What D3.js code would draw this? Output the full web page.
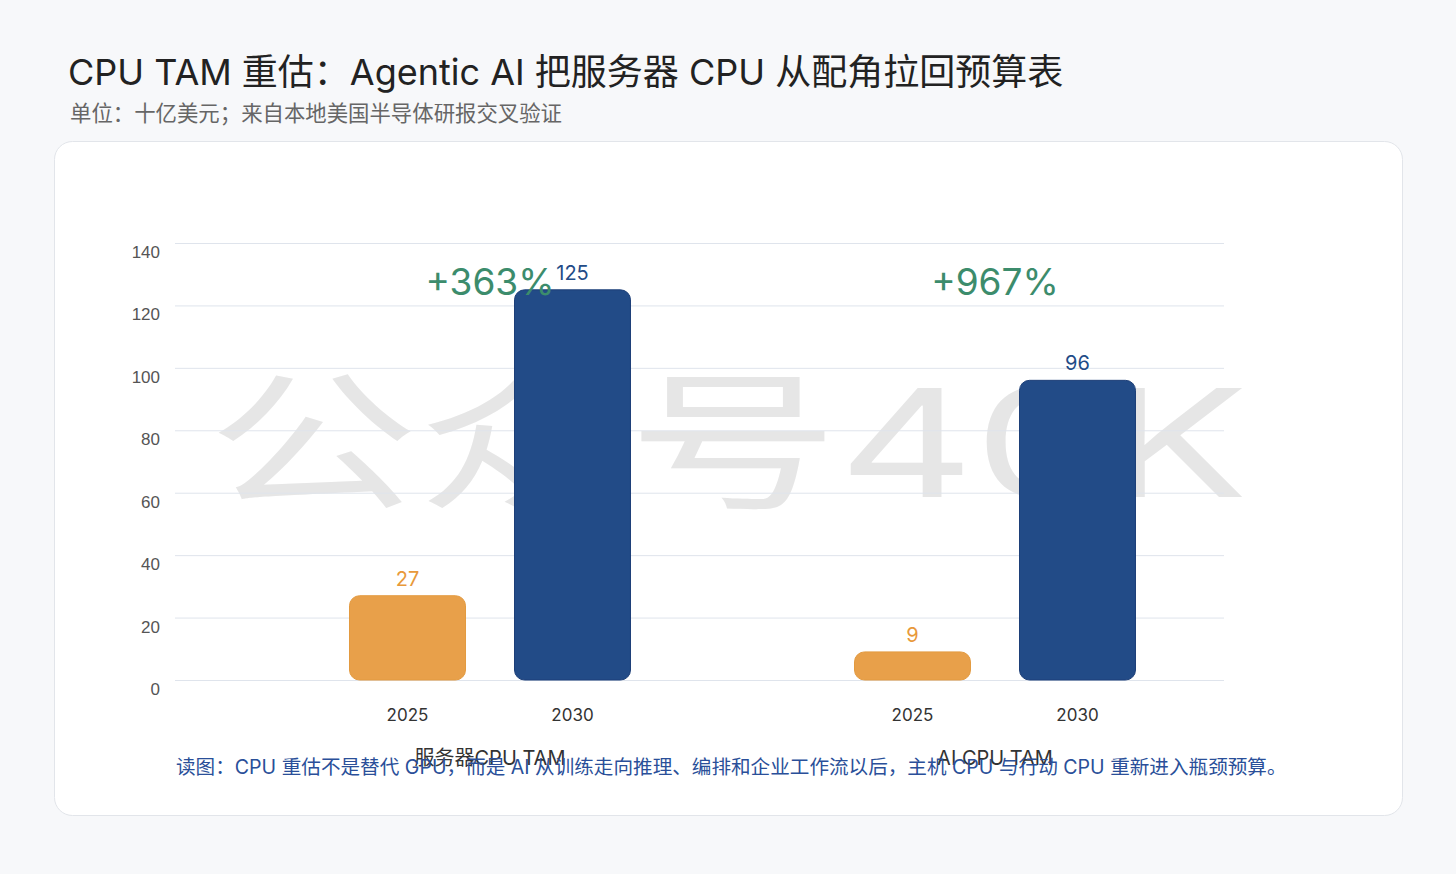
<!DOCTYPE html>
<html><head><meta charset="utf-8">
<script src="https://cdn.jsdelivr.net/npm/d3@7"></script>
<style>
html,body{margin:0;padding:0;background:#f7f8fa;}
svg{display:block;font-family:"Inter","Noto Sans CJK SC",sans-serif;}
</style></head>
<body><svg id="c" width="1456" height="874"></svg>
<script>
const categories = ["服务器CPU TAM", "AI CPU TAM"];
const years = ["2025", "2030"];
const values2025 = [27, 9];
const values2030 = [125, 96];
const growthLabels = ["+363%", "+967%"];
const yTicks = [0, 20, 40, 60, 80, 100, 120, 140];
const title = "CPU TAM 重估：Agentic AI 把服务器 CPU 从配角拉回预算表";
const subtitle = "单位：十亿美元；来自本地美国半导体研报交叉验证";
const footer = "读图：CPU 重估不是替代 GPU，而是 AI 从训练走向推理、编排和企业工作流以后，主机 CPU 与行动 CPU 重新进入瓶颈预算。";
const watermark = "公众号40K";

const colors = {"2025": "#e8a04a", "2030": "#224b87"};
const svg = d3.select("#c");

svg.append("rect").attr("x",0).attr("y",0).attr("width",1456).attr("height",874).attr("fill","#f7f8fa");
svg.append("rect").attr("x",54.5).attr("y",141.5).attr("width",1348).attr("height",674)
  .attr("rx",18).attr("fill","#fff").attr("stroke","#e2e5ea");

svg.append("text").attr("x",68).attr("y",85).attr("font-size",36).attr("fill","#222").text(title);
svg.append("text").attr("x",70).attr("y",121).attr("font-size",21.4).attr("fill","#666").text(subtitle);

const y = d3.scaleLinear().domain([0,140]).range([680,243]);
const x0 = d3.scaleBand().domain(categories).range([237.5,1247.5]).padding(0);
const x1 = d3.scaleBand().domain(years).range([-165,165]).paddingInner(0.297).paddingOuter(0.1485);

// watermark
svg.append("text").attr("x",728).attr("y",497).attr("text-anchor","middle")
  .attr("font-size",150).attr("fill","#e6e6e6").attr("textLength",1040).attr("lengthAdjust","spacingAndGlyphs")
  .text(watermark);

// gridlines
svg.append("g").selectAll("line").data(yTicks).join("line")
  .attr("x1",175).attr("x2",1224).attr("y1",d=>y(d)+0.5).attr("y2",d=>y(d)+0.5)
  .attr("stroke","#dfe4ec").attr("stroke-width",1);

const yAxis = d3.axisLeft(y).tickValues(yTicks).tickSize(0).tickPadding(0);
const ga = svg.append("g").attr("transform","translate(160,0)").call(yAxis);
ga.select(".domain").remove();
ga.selectAll("text").attr("font-size",17).attr("fill","#555").attr("font-family","inherit").attr("dy","0.85em");

const data = [];
categories.forEach((c,i)=>{
  data.push({cat:c, year:"2025", v:values2025[i]});
  data.push({cat:c, year:"2030", v:values2030[i]});
});

const g = svg.append("g");
g.selectAll("rect").data(data).join("rect")
  .attr("x",d=>x0(d.cat)+x0.bandwidth()/2+x1(d.year))
  .attr("width",x1.bandwidth())
  .attr("y",d=>y(d.v))
  .attr("height",d=>y(0)-y(d.v))
  .attr("rx",10)
  .attr("fill",d=>colors[d.year])
  .attr("stroke",d=>d.year==="2030"?"#1d3f78":"#e39a40").attr("stroke-width",1);

g.selectAll("text.val").data(data).join("text").attr("class","val")
  .attr("x",d=>x0(d.cat)+x0.bandwidth()/2+x1(d.year)+x1.bandwidth()/2)
  .attr("y",d=>y(d.v)-10)
  .attr("text-anchor","middle").attr("font-size",20)
  .attr("fill",d=>d.year==="2030"?"#224b87":"#e8993a")
  .text(d=>d.v);

// year labels
g.selectAll("text.yr").data(data).join("text").attr("class","yr")
  .attr("x",d=>x0(d.cat)+x0.bandwidth()/2+x1(d.year)+x1.bandwidth()/2)
  .attr("y",721).attr("text-anchor","middle").attr("font-size",17).attr("fill","#333")
  .text(d=>d.year);

// category labels
g.selectAll("text.cat").data(categories).join("text").attr("class","cat")
  .attr("x",d=>x0(d)+x0.bandwidth()/2).attr("y",765)
  .attr("text-anchor","middle").attr("font-size",20).attr("fill","#333").text(d=>d);

// growth labels
g.selectAll("text.gr").data(categories).join("text").attr("class","gr")
  .attr("x",d=>x0(d)+x0.bandwidth()/2).attr("y",y(123.5))
  .attr("text-anchor","middle").attr("font-size",37).attr("fill","#3c8c6c")
  .text((d,i)=>growthLabels[i]);

svg.append("text").attr("x",176).attr("y",774).attr("font-size",19.6).attr("fill","#2a4f99").text(footer);
</script></body></html>
